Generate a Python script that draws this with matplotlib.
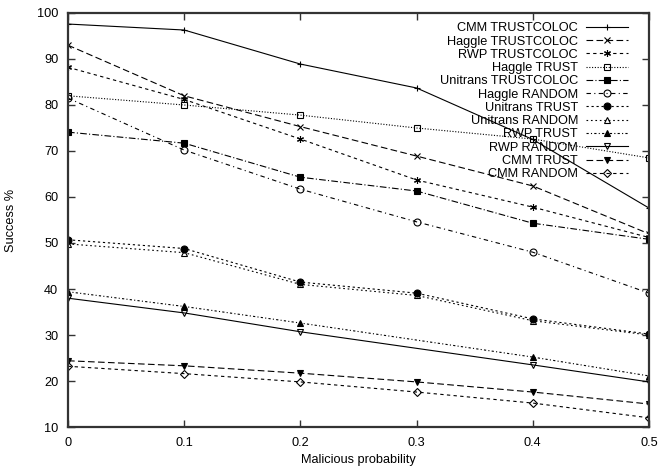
import matplotlib.pyplot as plt

# malicious probability on x
prob = [0, 0.1, 0.2, 0.3, 0.4, 0.5]
prob_rwp = [0, 0.1, 0.2, 0.4, 0.5]  # RWP TRUST/RANDOM have no point at 0.3

cmm_trustcoloc = [97.6, 96.3, 88.9, 83.7, 72.5, 57.6]
haggle_trustcoloc = [93.0, 82.0, 75.3, 68.9, 62.4, 52.0]
rwp_trustcoloc = [88.2, 81.2, 72.6, 63.7, 57.8, 51.2]
haggle_trust = [82.0, 80.0, 77.8, 75.0, 72.6, 68.5]
unitrans_trustcoloc = [74.1, 71.7, 64.3, 61.3, 54.3, 50.8]
haggle_random = [81.5, 70.2, 61.7, 54.6, 48.0, 39.1]
unitrans_trust = [50.7, 48.8, 41.5, 39.1, 33.5, 30.2]
unitrans_random = [49.8, 47.9, 41.0, 38.6, 33.1, 30.0]
rwp_trust = [39.4, 36.2, 32.6, 25.2, 21.1]
rwp_random = [38.0, 34.8, 30.7, 23.5, 19.8]
cmm_trust = [24.4, 23.3, 21.7, 19.8, 17.6, 15.0]
cmm_random = [23.2, 21.6, 19.8, 17.6, 15.2, 12.0]

plt.rcParams['font.family'] = ['Liberation Sans', 'DejaVu Sans']
FS = 9.2

fig = plt.figure(figsize=(6.58, 4.67), dpi=100)
ax = fig.add_axes([68 / 658, 1 - 427 / 467, (649 - 68) / 658, (427 - 13) / 467])

# gnuplot-like dash patterns
solid = '-'
long_dash = (0, (6, 3))
short_dash = (0, (3, 3))
fine_dot = (0, (1, 1.5))
dash_dot = (0, (6, 2, 1, 2))
dash_dot2 = (0, (4, 3, 1, 3))
short_dash2 = (0, (2, 2.5))
dot_sp = (0, (1.5, 2.5))
dot_dash = (0, (2, 2, 1, 2))

series = [
    ('CMM TRUSTCOLOC', prob, cmm_trustcoloc, solid, '+', 'k'),
    ('Haggle TRUSTCOLOC', prob, haggle_trustcoloc, long_dash, 'x', 'k'),
    ('RWP TRUSTCOLOC', prob, rwp_trustcoloc, short_dash, (6, 2, 0), 'k'),
    ('Haggle TRUST', prob, haggle_trust, fine_dot, 's', 'none'),
    ('Unitrans TRUSTCOLOC', prob, unitrans_trustcoloc, dash_dot, 's', 'k'),
    ('Haggle RANDOM', prob, haggle_random, dash_dot2, 'o', 'none'),
    ('Unitrans TRUST', prob, unitrans_trust, short_dash2, 'o', 'k'),
    ('Unitrans RANDOM', prob, unitrans_random, dot_sp, '^', 'none'),
    ('RWP TRUST', prob_rwp, rwp_trust, dot_dash, '^', 'k'),
    ('RWP RANDOM', prob_rwp, rwp_random, solid, 'v', 'none'),
    ('CMM TRUST', prob, cmm_trust, long_dash, 'v', 'k'),
    ('CMM RANDOM', prob, cmm_random, short_dash, 'D', 'none'),
]

for label, xs, ys, ls, mk, fc in series:
    ms = 4 if mk == 'D' else 5
    ax.plot(xs, ys, color='k', linestyle=ls, linewidth=0.8, marker=mk,
            markersize=ms, markerfacecolor=fc, markeredgecolor='k',
            markeredgewidth=0.8, label=label)

ax.set_xlim(0, 0.5)
ax.set_ylim(10, 100)
ax.set_xticks(prob)
ax.set_xticklabels(['0', '0.1', '0.2', '0.3', '0.4', '0.5'])
ax.set_yticks(range(10, 101, 10))

ax.tick_params(direction='in', top=True, right=True, length=5, width=1,
               labelsize=FS, pad=7, color='#333333')
for s in ax.spines.values():
    s.set_linewidth(1.6)
    s.set_color('#333333')

ax.set_xlabel('Malicious probability', fontsize=FS, labelpad=4)
ax.set_ylabel('Success %', fontsize=FS, labelpad=14)

ax.legend(loc='upper right', frameon=False, markerfirst=False, fontsize=FS,
          handlelength=3.3, handletextpad=0.6, labelspacing=0.1,
          borderaxespad=0, bbox_to_anchor=(0.9725, 0.99))

fig.savefig('out.png', dpi=100)
